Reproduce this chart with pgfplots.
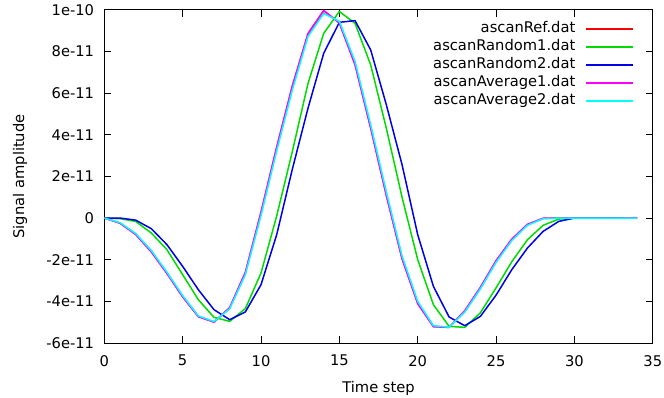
\documentclass[border=0pt]{standalone}
\usepackage{pgfplots}
\pgfplotsset{compat=1.18}
\usepackage{fontspec}
\setmainfont{DejaVu Sans}
\definecolor{cRef}{RGB}{255,0,0}
\definecolor{cR1}{RGB}{0,220,0}
\definecolor{cR2}{RGB}{0,0,230}
\definecolor{cA1}{RGB}{255,0,255}
\definecolor{cA2}{RGB}{0,255,255}
\newcommand{\F}{\fontsize{14.7bp}{17bp}\selectfont}
\begin{document}
\begin{tikzpicture}
\path[use as bounding box] (0,0) rectangle (664bp,398bp);
\begin{axis}[
  at={(104.3bp,55bp)}, anchor=south west,
  scale only axis, width=548.5bp, height=333.2bp,
  xmin=0, xmax=35, ymin=-6e-11, ymax=1e-10,
  xtick={0,5,10,15,20,25,30,35},
  ytick={-6e-11,-4e-11,-2e-11,0,2e-11,4e-11,6e-11,8e-11,1e-10},
  yticklabels={-6e-11,-4e-11,-2e-11,0,2e-11,4e-11,6e-11,8e-11,1e-10},
  scaled y ticks=false, scaled x ticks=false,
  /pgf/number format/assume math mode=true,
  tick align=inside, major tick length=7bp,
  every tick/.style={black, line width=0.8bp},
  axis line style={black, line width=0.9bp},
  tick label style={font=\F},
  yticklabel style={inner sep=0pt, xshift=-10bp},
  xticklabel style={inner sep=0pt, yshift=-12bp},
  xlabel={Time step}, ylabel={Signal amplitude},
  label style={font=\F},
  xlabel style={at={(axis description cs:0.5,-0.1350)}, anchor=center},
  ylabel style={at={(axis description cs:-0.1536,0.5)}, anchor=center, rotate=0},
  legend plot pos=right,
  legend cell align=right,
  legend image code/.code={\draw[#1, line width=1.5bp] (0bp,0bp) -- (47bp,0bp);},
  legend style={draw=none, fill=none, at={(1,1)}, anchor=north east,
    xshift=-18.8bp, yshift=-10bp, inner sep=0pt, row sep=0pt, column sep=10bp,
    font=\F, nodes={inner xsep=0pt, inner ysep=2bp, text height=11bp, text depth=3bp}},
  every axis plot/.append style={line width=1.5bp, line join=round},
]
\addplot[cRef] coordinates {
(0,0) (1,-0.24e-11) (2,-0.77e-11) (3,-1.6e-11) (4,-2.64e-11) (5,-3.76e-11) (6,-4.72e-11) (7,-4.99e-11) (8,-4.32e-11) (9,-2.64e-11)
(10,0.24e-11) (11,3.36e-11) (12,6.31e-11) (13,8.83e-11) (14,9.95e-11) (15,9.38e-11) (16,7.4e-11) (17,4.35e-11) (18,1.12e-11) (19,-1.92e-11)
(20,-4.08e-11) (21,-5.2e-11) (22,-5.25e-11) (23,-4.48e-11) (24,-3.36e-11) (25,-2.08e-11) (26,-1.04e-11) (27,-0.32e-11) (28,-0.02e-11) (29,0)
(30,0) (31,0) (32,0) (33,0) (34,0)};
\addlegendentry{ascanRef.dat}
\addplot[cR1] coordinates {
(0,0) (1,-0.03e-11) (2,-0.16e-11) (3,-0.72e-11) (4,-1.52e-11) (5,-2.72e-11) (6,-3.92e-11) (7,-4.77e-11) (8,-4.96e-11) (9,-4.35e-11)
(10,-2.64e-11) (11,0.1e-11) (12,3.2e-11) (13,6.47e-11) (14,8.87e-11) (15,9.92e-11) (16,9.35e-11) (17,7.35e-11) (18,4.3e-11) (19,1.0e-11)
(20,-2.0e-11) (21,-4.16e-11) (22,-5.2e-11) (23,-5.25e-11) (24,-4.55e-11) (25,-3.35e-11) (26,-2.1e-11) (27,-1.04e-11) (28,-0.35e-11) (29,-0.05e-11)
(30,0) (31,0) (32,0) (33,0) (34,0)};
\addlegendentry{ascanRandom1.dat}
\addplot[cR2] coordinates {
(0,0) (1,0) (2,-0.1e-11) (3,-0.51e-11) (4,-1.28e-11) (5,-2.32e-11) (6,-3.44e-11) (7,-4.4e-11) (8,-4.88e-11) (9,-4.51e-11)
(10,-3.2e-11) (11,-0.8e-11) (12,2.35e-11) (13,5.28e-11) (14,7.91e-11) (15,9.4e-11) (16,9.48e-11) (17,8.07e-11) (18,5.43e-11) (19,2.56e-11)
(20,-0.8e-11) (21,-3.28e-11) (22,-4.75e-11) (23,-5.17e-11) (24,-4.72e-11) (25,-3.7e-11) (26,-2.48e-11) (27,-1.44e-11) (28,-0.64e-11) (29,-0.16e-11)
(30,0) (31,0) (32,0) (33,0) (34,0)};
\addlegendentry{ascanRandom2.dat}
\addplot[cA1] coordinates {
(0,0) (1,-0.25e-11) (2,-0.79e-11) (3,-1.63e-11) (4,-2.67e-11) (5,-3.79e-11) (6,-4.74e-11) (7,-5.0e-11) (8,-4.3e-11) (9,-2.6e-11)
(10,0.3e-11) (11,3.42e-11) (12,6.36e-11) (13,8.87e-11) (14,9.97e-11) (15,9.36e-11) (16,7.35e-11) (17,4.3e-11) (18,1.06e-11) (19,-1.97e-11)
(20,-4.12e-11) (21,-5.22e-11) (22,-5.25e-11) (23,-4.45e-11) (24,-3.32e-11) (25,-2.04e-11) (26,-1.01e-11) (27,-0.3e-11) (28,-0.01e-11) (29,0)
(30,0) (31,0) (32,0) (33,0) (34,0.02e-11)};
\addlegendentry{ascanAverage1.dat}
\addplot[cA2] coordinates {
(0,0) (1,-0.22e-11) (2,-0.74e-11) (3,-1.56e-11) (4,-2.6e-11) (5,-3.72e-11) (6,-4.7e-11) (7,-4.97e-11) (8,-4.36e-11) (9,-2.72e-11)
(10,0.12e-11) (11,3.22e-11) (12,6.15e-11) (13,8.72e-11) (14,9.82e-11) (15,9.45e-11) (16,7.52e-11) (17,4.48e-11) (18,1.25e-11) (19,-1.82e-11)
(20,-4.0e-11) (21,-5.17e-11) (22,-5.24e-11) (23,-4.52e-11) (24,-3.4e-11) (25,-2.13e-11) (26,-1.08e-11) (27,-0.35e-11) (28,-0.03e-11) (29,0)
(30,0) (31,0) (32,0) (33,0) (34,0)};
\addlegendentry{ascanAverage2.dat}
\end{axis}
\end{tikzpicture}
\end{document}
